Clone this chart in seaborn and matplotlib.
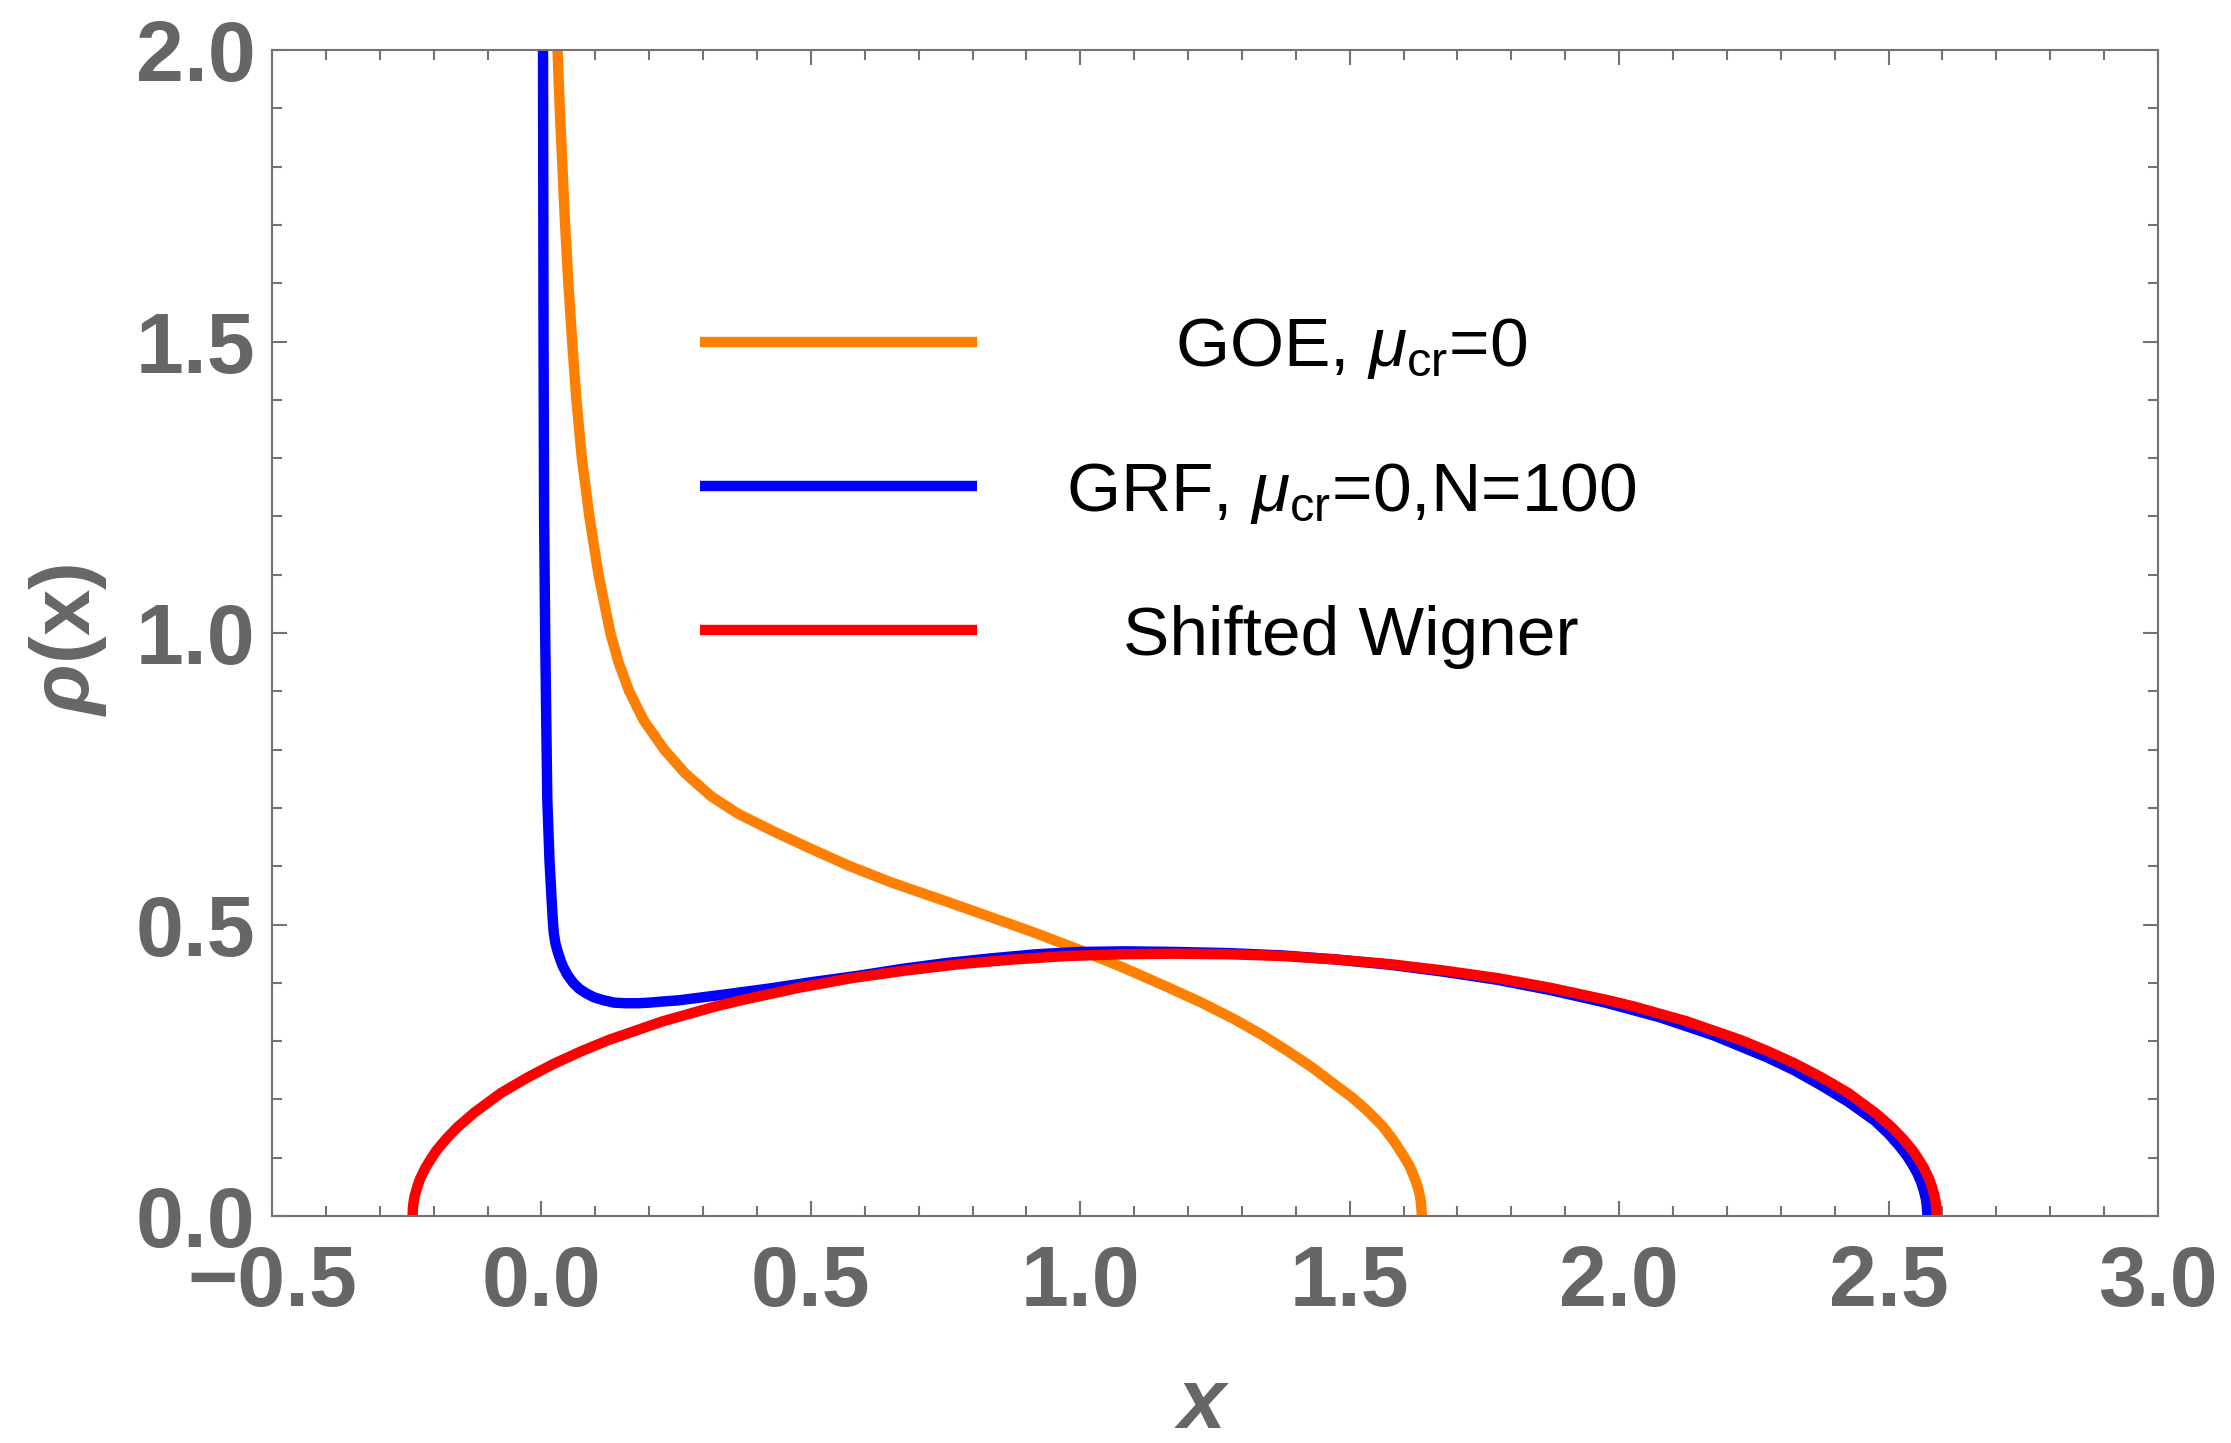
import matplotlib
matplotlib.use("Agg")
import matplotlib.pyplot as plt
import seaborn as sns
from matplotlib.ticker import MultipleLocator

sns.set_style("ticks")
plt.rcParams['font.family'] = ['Liberation Sans', 'DejaVu Sans']
plt.rcParams['mathtext.fontset'] = 'custom'
plt.rcParams['mathtext.rm'] = 'Liberation Sans'
plt.rcParams['mathtext.it'] = 'Liberation Sans:italic'
plt.rcParams['mathtext.bf'] = 'Liberation Sans:bold'
plt.rcParams['mathtext.bfit'] = 'Liberation Sans:bold:italic'

# ---- data ----
goe_x = [0.030, 0.034, 0.039, 0.044, 0.050, 0.057, 0.065, 0.075, 0.089, 0.106,
         0.128, 0.143, 0.163, 0.190, 0.228, 0.266, 0.315, 0.365, 0.437, 0.500,
         0.570, 0.650, 0.744, 0.830, 0.918, 1.000, 1.080, 1.161, 1.225, 1.285,
         1.335, 1.383, 1.430, 1.470, 1.505, 1.532, 1.560, 1.581, 1.600, 1.612,
         1.622, 1.627, 1.630, 1.632, 1.634]
goe_y = [2.000, 1.900, 1.800, 1.700, 1.600, 1.500, 1.400, 1.300, 1.200, 1.100,
         1.000, 0.950, 0.900, 0.850, 0.800, 0.760, 0.720, 0.690, 0.657, 0.630,
         0.601, 0.572, 0.542, 0.514, 0.485, 0.456, 0.426, 0.393, 0.366, 0.338,
         0.312, 0.284, 0.255, 0.227, 0.203, 0.181, 0.155, 0.130, 0.103, 0.084,
         0.061, 0.047, 0.035, 0.025, 0.000]

grf_x = [0.003, 0.004, 0.005, 0.007, 0.009, 0.011, 0.015, 0.019, 0.021, 0.023,
         0.026, 0.030, 0.035, 0.040, 0.048, 0.059, 0.070, 0.083, 0.098, 0.116,
         0.135, 0.156, 0.180, 0.200, 0.225, 0.255, 0.340, 0.421, 0.500, 0.587,
         0.670, 0.752, 0.835, 0.918, 1.000, 1.083, 1.175, 1.275, 1.375, 1.475,
         1.575, 1.675, 1.775, 1.875, 1.975, 2.075, 2.175, 2.275, 2.325, 2.375,
         2.425, 2.475, 2.500, 2.520, 2.535, 2.545, 2.553, 2.560, 2.565, 2.569,
         2.571, 2.572]
grf_y = [2.000, 1.500, 1.200, 1.000, 0.850, 0.713, 0.610, 0.542, 0.510, 0.485,
         0.468, 0.454, 0.440, 0.428, 0.414, 0.400, 0.390, 0.382, 0.375, 0.370,
         0.366, 0.365, 0.365, 0.366, 0.368, 0.370, 0.380, 0.390, 0.401, 0.412,
         0.424, 0.434, 0.442, 0.449, 0.453, 0.454, 0.453, 0.451, 0.447, 0.440,
         0.431, 0.419, 0.405, 0.387, 0.366, 0.341, 0.310, 0.272, 0.250, 0.224,
         0.196, 0.163, 0.141, 0.120, 0.102, 0.087, 0.074, 0.059, 0.045, 0.030,
         0.017, 0.000]

wig_x = [-0.239, -0.2385, -0.237, -0.235, -0.230, -0.225, -0.215, -0.205, -0.195, -0.175,
         -0.155, -0.125, -0.075, -0.025, 0.025, 0.075, 0.125, 0.175, 0.225, 0.275,
         0.325, 0.375, 0.475, 0.575, 0.675, 0.775, 0.875, 0.975, 1.075, 1.175,
         1.275, 1.375, 1.475, 1.575, 1.675, 1.775, 1.875, 1.975, 2.025, 2.075,
         2.125, 2.175, 2.225, 2.275, 2.325, 2.375, 2.425, 2.475, 2.505, 2.525,
         2.545, 2.555, 2.565, 2.575, 2.580, 2.585, 2.587, 2.5885, 2.589]
wig_y = [0.000, 0.014, 0.025, 0.035, 0.051, 0.064, 0.083, 0.098, 0.112, 0.134,
         0.153, 0.177, 0.211, 0.238, 0.262, 0.283, 0.302, 0.318, 0.334, 0.347,
         0.360, 0.371, 0.391, 0.408, 0.421, 0.432, 0.440, 0.446, 0.449, 0.450,
         0.449, 0.446, 0.440, 0.432, 0.421, 0.408, 0.391, 0.371, 0.360, 0.347,
         0.334, 0.318, 0.302, 0.283, 0.262, 0.238, 0.211, 0.177, 0.153, 0.134,
         0.112, 0.098, 0.083, 0.064, 0.051, 0.035, 0.025, 0.014, 0.000]

labels = [r'GOE, $\mu_{\mathrm{cr}}$=0',
          r'GRF, $\mu_{\mathrm{cr}}$=0,N=100',
          'Shifted Wigner']
colors = ['#FF8000', '#0000FF', '#FF0000']

x_ticks = [-0.5, 0.0, 0.5, 1.0, 1.5, 2.0, 2.5, 3.0]
y_ticks = [0.0, 0.5, 1.0, 1.5, 2.0]

GRAY = '#666666'
SPINE = '#737373'
LW = 7.5

fig = plt.figure(figsize=(22.31, 14.43), dpi=100)
ax = fig.add_axes([0.1219, 0.1573, 0.8454, 0.8080])

for xs, ys, c, lab in zip([goe_x, grf_x, wig_x], [goe_y, grf_y, wig_y], colors, labels):
    sns.lineplot(x=xs, y=ys, sort=False, estimator=None, color=c,
                 linewidth=LW, solid_capstyle='butt', solid_joinstyle='round',
                 label=lab, ax=ax)

ax.set_xlim(-0.5, 3.0)
ax.set_ylim(0, 2.0)
ax.set_xticks(x_ticks, [f'{v:.1f}'.replace('-', '\u2212') for v in x_ticks],
              fontweight='bold', color=GRAY, fontsize=62)
ax.set_yticks(y_ticks, [f'{v:.1f}' for v in y_ticks],
              fontweight='bold', color=GRAY, fontsize=62)
ax.xaxis.set_minor_locator(MultipleLocator(0.1))
ax.yaxis.set_minor_locator(MultipleLocator(0.1))
ax.tick_params(which='both', direction='in', top=True, right=True,
               color=SPINE, width=1.5)
ax.tick_params(which='major', length=11)
ax.tick_params(which='minor', length=7)
ax.tick_params(axis='x', which='major', pad=20)
ax.tick_params(axis='y', which='major', pad=12)
for s in ax.spines.values():
    s.set_color(SPINE)
    s.set_linewidth(1.5)

ax.set_xlabel('x', fontsize=62, fontweight='bold', fontstyle='italic',
              color=GRAY, va='center')
ax.xaxis.set_label_coords(0.493, -0.163)
ax.set_ylabel(r'$\mathbfit{\rho}$(x)', fontsize=60, fontweight='bold',
              color=GRAY, va='center')
ax.yaxis.set_label_coords(-0.108, 0.494)

leg = ax.legend(loc='center', bbox_to_anchor=(0.475, 0.6205), frameon=False,
                fontsize=50, handlelength=4.0, handletextpad=1.27,
                labelspacing=1.14, borderpad=0, borderaxespad=0,
                labelcolor='black')
for h in leg.get_lines():
    h.set_linewidth(LW)
    h.set_solid_capstyle('butt')

# centre the legend texts in their column, like the original
fig.canvas.draw()
r = fig.canvas.get_renderer()
texts = leg.get_texts()
widths = [t.get_window_extent(r).width for t in texts]
wmax = max(widths)
for t, w in zip(texts, widths):
    t.set_x((wmax - w) / 2)

fig.savefig('out.png', dpi=100)
